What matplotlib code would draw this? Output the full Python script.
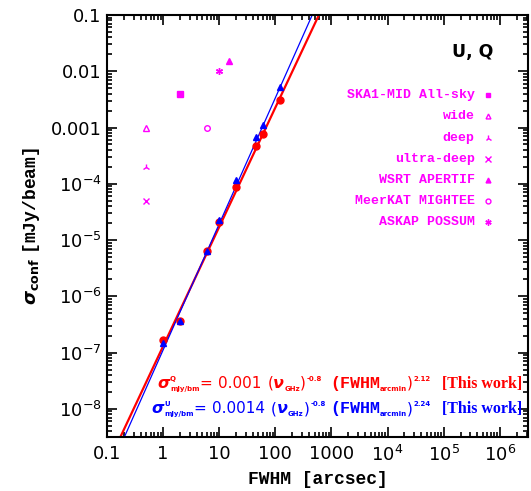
import numpy as np
import matplotlib
matplotlib.use("Agg")
import matplotlib.pyplot as plt
from matplotlib.ticker import FixedLocator, LogLocator, NullFormatter
from matplotlib.transforms import IdentityTransform

plt.rcParams['mathtext.fontset'] = 'custom'
plt.rcParams['mathtext.it'] = 'DejaVu Sans:italic:bold'
plt.rcParams['mathtext.sf'] = 'DejaVu Sans:bold'
plt.rcParams['mathtext.tt'] = 'Liberation Mono:bold'

# --- data -------------------------------------------------------------
fwhm = [1, 2, 6, 10, 20, 45, 60, 120]  # arcsec
sigma_q = [1.7e-7, 3.7e-7, 6.3e-6, 2.1e-5, 8.9e-5, 4.6e-4, 7.7e-4, 3.1e-3]
sigma_u = [1.5e-7, 3.7e-7, 6.3e-6, 2.3e-5, 1.18e-4, 6.8e-4, 1.1e-3, 5.2e-3]

# fit parameters (from the labels)
nu_ghz = 1.4
amp_q, slope_q = 0.001, 2.12
amp_u, slope_u = 0.0014, 2.24

survey_names = ['SKA1-MID All-sky', 'wide', 'deep', 'ultra-deep',
                'WSRT APERTIF', 'MeerKAT MIGHTEE', 'ASKAP POSSUM']
survey_fwhm = [2, 0.5, 0.5, 0.5, 15, 6, 10]
survey_sigma = [4e-3, 1e-3, 2e-4, 5e-5, 1.5e-2, 1e-3, 1e-2]
survey_markers = ['s', '^', '2', 'x', '^', 'o', (6, 2, 0)]
survey_filled = [True, False, True, True, True, False, True]

xticks = [0.1, 1, 10, 100, 1000, 1e4, 1e5, 1e6]
xticklabels = ['0.1', '1', '10', '100', '1000',
               r'$\mathdefault{10^{4}}$', r'$\mathdefault{10^{5}}$', r'$\mathdefault{10^{6}}$']
yticks = [1e-8, 1e-7, 1e-6, 1e-5, 1e-4, 1e-3, 1e-2, 0.1]
yticklabels = [r'$\mathdefault{10^{-8}}$', r'$\mathdefault{10^{-7}}$', r'$\mathdefault{10^{-6}}$',
               r'$\mathdefault{10^{-5}}$', r'$\mathdefault{10^{-4}}$', '0.001', '0.01', '0.1']

MAG = '#ff00ff'
RED = '#ff0000'
BLUE = '#0000ff'

W, H = 531, 491
fig = plt.figure(figsize=(W / 100, H / 100), dpi=100)
ax = fig.add_axes([0.2015, 0.11, 0.7925, 0.8595])
ax.set_xscale('log')
ax.set_yscale('log')
ax.set_xlim(0.1, 10 ** 6.5)
ax.set_ylim(10 ** -8.5, 0.1)

# fit lines
xx = np.logspace(-1, 6.5, 200)
ax.plot(xx, amp_q * nu_ghz ** -0.8 * (xx / 60.0) ** slope_q, color=RED, lw=1.6, zorder=2)
ax.plot(xx, amp_u * nu_ghz ** -0.8 * (xx / 60.0) ** slope_u, color=BLUE, lw=0.9, zorder=2)

# measured points
ax.plot(fwhm, sigma_q, 'o', color=RED, ms=5, zorder=3)
ax.plot(fwhm, sigma_u, '^', color=BLUE, ms=4, zorder=4)

# survey sensitivities + hand-made legend
for i, name in enumerate(survey_names):
    mfc = MAG if survey_filled[i] else 'none'
    ms = 4 if survey_markers[i] in ('s', '^', 'o') else 5
    ax.plot(survey_fwhm[i], survey_sigma[i], marker=survey_markers[i], ls='none',
            color=MAG, mfc=mfc, ms=ms, mew=1.0)
    yy = 0.810 - i * 0.0502
    ax.text(0.874, yy, name, transform=ax.transAxes, ha='right', va='center',
            color=MAG, fontsize=9.5, family='Liberation Mono', fontweight='bold')
    ax.plot(0.905, yy, marker=survey_markers[i], ls='none', color=MAG, mfc=mfc,
            ms=ms - 0.5, mew=1.0, transform=ax.transAxes, clip_on=False)

ax.text(0.917, 0.912, 'U, Q', transform=ax.transAxes, ha='right', va='center',
        fontsize=12.5, fontweight='bold', color='black')

# fit formulas, drawn piece by piece (mixed fonts, small scripts)
SANS = dict(family='DejaVu Sans', fontsize=11)
GREEK = dict(family='DejaVu Sans', fontsize=11.5, style='italic', fontweight='bold')
SCR = dict(family='DejaVu Sans', fontsize=5, fontweight='bold')
MONO = dict(family='Liberation Mono', fontsize=12, fontweight='bold')
SERIF = dict(family='Liberation Serif', fontsize=11.5, fontweight='bold')


def formula(pieces, x0, base, color):
    renderer = fig.canvas.get_renderer()
    x = x0
    hold = x0
    for txt, role, kw, gap in pieces:
        if role == 'tab':
            x = kw
            continue
        dy = {'n': 0, 'sup': 7, 'sup0': 7, 'sub': -3}[role]
        t = fig.text(x, H - base + dy, txt, transform=IdentityTransform(),
                     ha='left', va='baseline', color=color, **kw)
        x1 = t.get_window_extent(renderer).x1
        if role == 'sup0':
            hold = x1
            continue
        x = max(x1, hold) + gap
        hold = x


def pieces_for(sup, amp, slope):
    return [
        ('σ', 'n', GREEK, 0.5),
        (sup, 'sup0', SCR, 0),
        ('mJy/bm', 'sub', SCR, 1),
        ('= ', 'n', SANS, 0),
        (amp, 'n', SANS, 6),
        ('(', 'n', SANS, 0),
        ('ν', 'n', GREEK, 0),
        ('GHz', 'sub', SCR, 0),
        (')', 'n', SANS, 1),
        ('-0.8', 'sup', SCR, 0),
        ('', 'tab', 330, 0),
        ('(FWHM', 'n', MONO, 0),
        ('arcmin', 'sub', SCR, 0),
        (')', 'n', SANS, 1),
        (slope, 'sup', SCR, 0),
        ('', 'tab', 442, 0),
        ('[This work]', 'n', SERIF, 0),
    ]


formula(pieces_for('Q', '0.001', f'{slope_q:.2f}'), 157, 388, RED)
formula(pieces_for('U', '0.0014', f'{slope_u:.2f}'), 151, 413, BLUE)

# ticks
ax.xaxis.set_major_locator(FixedLocator(xticks))
ax.set_xticklabels(xticklabels)
ax.yaxis.set_major_locator(FixedLocator(yticks))
ax.set_yticklabels(yticklabels)
ax.xaxis.set_minor_locator(LogLocator(base=10, subs=np.arange(2, 10), numticks=20))
ax.yaxis.set_minor_locator(LogLocator(base=10, subs=np.arange(2, 10), numticks=20))
ax.xaxis.set_minor_formatter(NullFormatter())
ax.yaxis.set_minor_formatter(NullFormatter())
ax.tick_params(which='both', direction='in', top=True, right=True, width=1.2)
ax.tick_params(which='major', length=7, labelsize=13)
ax.tick_params(which='minor', length=3.5)
ax.tick_params(axis='x', pad=6)
ax.tick_params(axis='y', pad=4)
for s in ax.spines.values():
    s.set_linewidth(1.5)

ax.set_xlabel('FWHM [arcsec]', family='Liberation Mono', fontsize=13, fontweight='bold', labelpad=4)
ax.set_ylabel(r'$\sigma_{\mathsf{conf}}\ \mathtt{[mJy/beam]}$', fontsize=13, labelpad=6)

fig.savefig('out.png', dpi=100)
